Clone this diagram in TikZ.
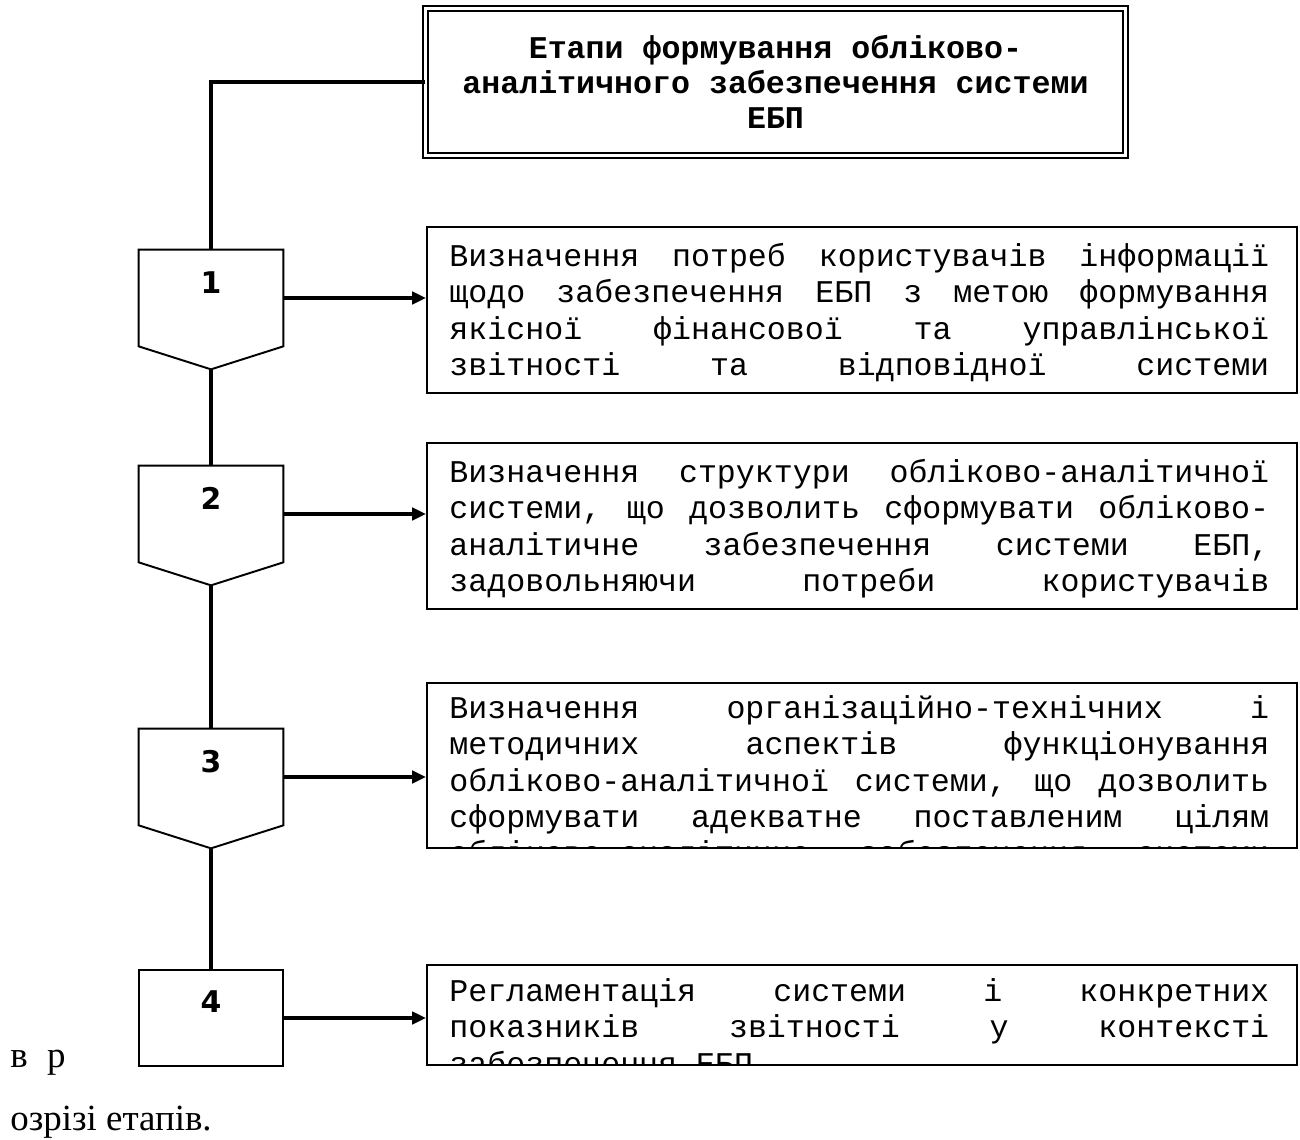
\documentclass[tikz,border=0pt]{standalone}
\usepackage{fontspec}
\setmainfont{Liberation Serif}
\newfontfamily\monofont{Liberation Mono}
\newfontfamily\numfont{DejaVu Sans}
\usetikzlibrary{arrows.meta,calc}

\begin{document}
\begin{tikzpicture}[x=0.02cm, y=-0.02cm]
	\tikzstyle{title} = [draw, double, double distance=1.8pt, line width=0.9pt, minimum width=14cm, minimum height=2.94cm, align=center, font={\monofont\bfseries\fontsize{18}{20.1}\selectfont}];
	\tikzstyle{stage} = [minimum width=2.88cm, minimum height=1.92cm, inner sep=0pt];
	\tikzstyle{num} = [font={\numfont\bfseries\fontsize{17}{20}\selectfont}];
	\tikzstyle{infobox} = [draw, line width=1.1pt, minimum width=17.4cm, inner sep=0pt];
	\tikzstyle{info} = [anchor=north west, inner sep=0pt, text width=16.4cm, align=justify, font={\monofont\fontsize{18}{20.7}\selectfont\spaceskip=0.6em plus 30em\relax\hyphenpenalty=10000\parindent=0pt}];
	\tikzstyle{outline} = [line width=1.1pt];
	\tikzstyle{link} = [line width=2.2pt];
	\tikzstyle{point} = [-{Triangle[length=8pt,width=7pt]}, line width=2.2pt];
	\tikzstyle{body} = [inner sep=0pt, anchor=base west, font={\fontsize{21}{25}\selectfont}];

	\useasboundingbox (0,0) rectangle (1300,1139);

	\node[title] (EBP) at (775.5,82) {Етапи формування обліково-\\аналітичного забезпечення системи\\ЕБП};

	% stages 1-3 (pentagons)
	\foreach \i/\y in {1/298,2/514,3/777} {
		\node[stage] (s\i) at (211,\y) {};
		\coordinate (tip\i) at ($(s\i.south)+(0,23)$);
		\draw[outline] (s\i.south west) -- (s\i.north west) -- (s\i.north east) -- (s\i.south east) -- (tip\i) -- cycle;
		\node[num] (n\i) at ($(s\i.north)+(0,33)$) {\i};
	}
	\node[stage, draw, outline] (s4) at (211,1018) {};
	\node[num] (n4) at ($(s4.north)+(0,33)$) {4};

	\draw[link] (EBP.west) -| (s1.north);
	\foreach \i/\j in {1/2,2/3,3/4} {
		\draw[link] (tip\i) -- (s\j.north);
	}

	% boxes
	\node[infobox, minimum height=3.32cm] (b1) at (862,310) {};
	\begin{scope}
		\clip (b1.south west) rectangle (b1.north east);
		\node[info] (t1) at ($(b1.north west)+(23,17)$) {Визначення потреб користувачів інформації\linebreak щодо забезпечення ЕБП з метою формування\linebreak якісної фінансової та управлінської\linebreak звітності та відповідної системи\linebreak\null};
	\end{scope}

	\node[infobox, minimum height=3.32cm] (b2) at (862,526) {};
	\begin{scope}
		\clip (b2.south west) rectangle (b2.north east);
		\node[info] (t2) at ($(b2.north west)+(23,17)$) {Визначення структури обліково-аналітичної\linebreak системи, що дозволить сформувати обліково-\linebreak аналітичне забезпечення системи ЕБП,\linebreak задовольняючи потреби користувачів\linebreak\null};
	\end{scope}

	\node[infobox, minimum height=3.3cm] (b3) at (862,765.5) {};
	\begin{scope}
		\clip (b3.south west) rectangle (b3.north east);
		\node[info] (t3) at ($(b3.north west)+(23,13)$) {Визначення організаційно-технічних і\linebreak методичних аспектів функціонування\linebreak обліково-аналітичної системи, що дозволить\linebreak сформувати адекватне поставленим цілям\linebreak обліково-аналітичне забезпечення системи\linebreak\null};
	\end{scope}

	\node[infobox, minimum height=2cm] (b4) at (862,1015) {};
	\begin{scope}
		\clip (b4.south west) rectangle (b4.north east);
		\node[info] (t4) at ($(b4.north west)+(23,14)$) {Регламентація системи і конкретних\linebreak показників звітності у контексті\linebreak забезпечення ЕБП.};
	\end{scope}

	\foreach \i in {1,2,3,4} {
		\draw[point] (s\i.east) -- (s\i.east -| b\i.west);
	}

	\node[body] (vr) at (10,1067) {в\hspace{11pt}р};
	\node[body] (tail) at (10,1130) {озрізі етапів.};
\end{tikzpicture}
\end{document}
